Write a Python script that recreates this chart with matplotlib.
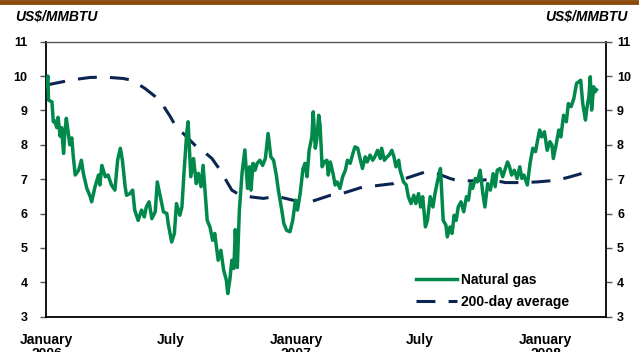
import pandas as pd
import matplotlib.pyplot as plt
from matplotlib.lines import Line2D

# Henry Hub natural gas, US$/MMBTU, by days since 1 Jan 2006
gas_day = [0, 2, 3, 8, 10, 12, 15, 17, 20, 22, 25, 27, 29, 32, 34, 37, 39, 42, 47, 51,
           54, 59, 64, 66, 71, 76, 78, 81, 86, 90, 95, 100, 104, 108, 111, 115, 117, 122, 126, 129,
           134, 139, 143, 146, 150, 154, 159, 162, 166, 171, 176, 178, 183, 187, 190, 195, 198, 201, 205, 207,
           211, 215, 219, 222, 226, 229, 232, 235, 239, 243, 246, 251, 255, 259, 263, 265, 268, 271, 274, 276,
           279, 282, 286, 290, 294, 297, 299, 302, 305, 308, 312, 316, 320, 324, 328, 332, 336, 339, 344, 347,
           351, 356, 360, 364, 367, 371, 375, 378, 381, 384, 388, 390, 393, 395, 398, 400, 403, 406, 410, 412,
           415, 419, 422, 425, 429, 433, 437, 440, 444, 448, 451, 455, 459, 462, 466, 469, 473, 477, 480, 484,
           488, 490, 494, 498, 501, 505, 508, 511, 515, 517, 522, 526, 529, 533, 537, 540, 544, 547, 550, 554,
           557, 561, 565, 568, 572, 576, 580, 584, 586, 590, 593, 596, 599, 602, 606, 610, 614, 617, 620, 623,
           627, 630, 634, 638, 641, 645, 649, 653, 656, 659, 663, 667, 671, 674, 677, 680, 684, 688, 692, 695,
           698, 703, 707, 711, 715, 718, 721, 724, 728, 732, 736, 739, 741, 745, 749, 752, 756, 760, 763, 767,
           771, 775, 778, 781, 784, 788, 790, 793, 795, 797, 800, 802, 804]
gas_price = [9.70, 10.00, 9.30, 9.25, 8.67, 8.70, 8.50, 8.80, 8.25, 8.50, 7.75, 8.40, 8.77, 8.33, 8.00, 8.20, 7.70, 7.12, 7.26, 7.55,
             7.16, 6.73, 6.49, 6.34, 6.78, 7.12, 6.83, 7.40, 7.07, 7.12, 6.83, 6.68, 7.55, 7.90, 7.55, 6.78, 6.53, 6.58, 6.68, 6.10,
             5.80, 6.10, 5.90, 6.19, 6.34, 5.85, 6.05, 6.92, 6.53, 6.05, 6.00, 5.70, 5.17, 5.42, 6.29, 5.95, 6.19, 7.17, 8.33, 8.67,
             7.07, 7.60, 6.87, 7.17, 6.78, 7.40, 6.58, 5.80, 5.61, 5.22, 5.42, 4.64, 4.93, 4.35, 4.06, 3.67, 4.06, 4.64, 4.40, 5.53,
             4.43, 6.10, 7.19, 7.85, 6.73, 7.36, 6.68, 7.46, 7.26, 7.46, 7.55, 7.40, 7.60, 8.33, 7.65, 7.55, 7.12, 6.68, 6.10, 5.71,
             5.51, 5.47, 5.80, 6.39, 6.10, 6.60, 7.30, 7.46, 7.07, 7.84, 8.23, 8.96, 7.90, 8.13, 8.86, 8.57, 7.36, 7.50, 7.55, 7.12,
             7.50, 7.16, 6.83, 6.92, 6.73, 7.07, 7.26, 7.55, 7.46, 7.75, 7.94, 7.90, 7.55, 7.31, 7.65, 7.50, 7.70, 7.55, 7.65, 7.84,
             7.60, 7.90, 7.55, 7.65, 7.70, 7.84, 7.65, 7.36, 7.55, 7.26, 6.92, 6.83, 6.49, 6.29, 6.53, 6.29, 6.58, 6.19, 6.49, 5.61,
             5.80, 6.49, 6.19, 6.58, 6.97, 7.31, 5.80, 5.66, 5.32, 5.61, 5.42, 5.95, 5.80, 6.19, 6.34, 6.05, 6.49, 6.39, 6.87, 6.73,
             7.02, 6.92, 7.26, 6.58, 6.19, 6.87, 6.68, 7.16, 6.78, 7.26, 7.31, 7.07, 7.31, 7.50, 7.36, 7.12, 7.26, 7.02, 7.36, 7.02,
             7.12, 6.83, 7.46, 7.90, 7.80, 8.13, 8.43, 8.23, 8.38, 7.84, 8.09, 7.99, 7.60, 7.99, 8.43, 8.23, 8.86, 8.67, 9.20, 9.11,
             9.35, 9.79, 9.83, 9.88, 9.20, 8.72, 9.06, 9.40, 9.98, 9.01, 9.69, 9.54, 9.60]

# 200-day moving average
avg_day = [0, 15, 30, 45, 64, 85, 112, 125, 144, 158, 170, 181, 192, 200, 217, 230, 242, 254, 263, 271,
           280, 288, 300, 317, 337, 364, 386, 415, 432, 459, 478, 507, 525, 540, 554, 573, 590, 602, 622, 649,
           671, 697, 718, 747, 766, 780, 792]
avg_price = [9.74, 9.80, 9.86, 9.91, 9.96, 9.97, 9.93, 9.88, 9.64, 9.42, 9.16, 8.82, 8.43, 8.33, 7.99, 7.80, 7.60, 7.26, 6.95, 6.68,
             6.57, 6.53, 6.48, 6.44, 6.50, 6.37, 6.34, 6.53, 6.58, 6.75, 6.80, 6.87, 7.02, 7.12, 7.21, 7.15, 7.02, 6.95, 6.95, 6.99,
             6.90, 6.90, 6.92, 6.97, 7.07, 7.15, 7.23]

tick_dates = ['2006-01-01', '2006-07-01', '2007-01-01', '2007-07-01', '2008-01-01']
tick_labels = ['January\n2006', 'July', 'January\n2007', 'July', 'January\n2008']

start = pd.Timestamp('2006-01-01')
gas_x = start + pd.to_timedelta(gas_day, unit='D')
avg_x = start + pd.to_timedelta(avg_day, unit='D')

plt.rcParams['font.family'] = ['Liberation Sans', 'DejaVu Sans']
plt.rcParams['font.weight'] = 'bold'

fig = plt.figure(figsize=(6.42, 3.52), dpi=100)
ax = fig.add_axes([0.0724, 0.1006, 0.8715, 0.7809])

green = '#00894b'
navy = '#0b2552'
ax.plot(gas_x, gas_price, color=green, lw=2.5, solid_joinstyle='round', zorder=3)
ax.plot(avg_x, avg_price, color=navy, lw=2.2, dashes=(6.2, 4.3), zorder=2)

ax.set_ylim(3, 11)
ax.set_xlim(start, start + pd.Timedelta(days=818))
ax.set_yticks(range(3, 12))
ax.set_xticks(pd.to_datetime(tick_dates))
ax.set_xticklabels(tick_labels, fontsize=10, fontweight='bold', linespacing=1.0)
ax.tick_params(axis='x', length=0, pad=12)
ax.tick_params(axis='y', length=4, width=1, color='#555555', pad=9.5, labelsize=9)

right = ax.secondary_yaxis('right')
right.set_yticks(range(3, 12))
right.tick_params(axis='y', length=4, width=1, color='#555555', pad=4, labelsize=9)
right.spines['right'].set_linewidth(1.3)

for side in ['left', 'bottom']:
    ax.spines[side].set_linewidth(1.3)
    ax.spines[side].set_color('black')
ax.spines['right'].set_visible(False)
ax.spines['top'].set_color('#555555')
ax.spines['top'].set_linewidth(1.0)

fig.text(0.024, 0.952, 'US$/MMBTU', fontsize=10, fontweight='bold', style='italic', va='center', ha='left')
fig.text(0.978, 0.952, 'US$/MMBTU', fontsize=10, fontweight='bold', style='italic', va='center', ha='right')

# brown rule along the top edge
fig.add_artist(Line2D([0, 0.99], [0.994, 0.994], transform=fig.transFigure, color='#8a4a0a', lw=3.5))

handles = [Line2D([], [], color=green, lw=2.5),
           Line2D([], [], color=navy, lw=2.2, dashes=(6.2, 4.3))]
ax.legend(handles, ['Natural gas', '200-day average'], loc='upper left', bbox_to_anchor=(0.66, 0.16),
          frameon=False, fontsize=10, handlelength=3.0, handletextpad=0.25, labelspacing=0.6,
          borderpad=0, borderaxespad=0)

fig.savefig('out.png', dpi=100)
